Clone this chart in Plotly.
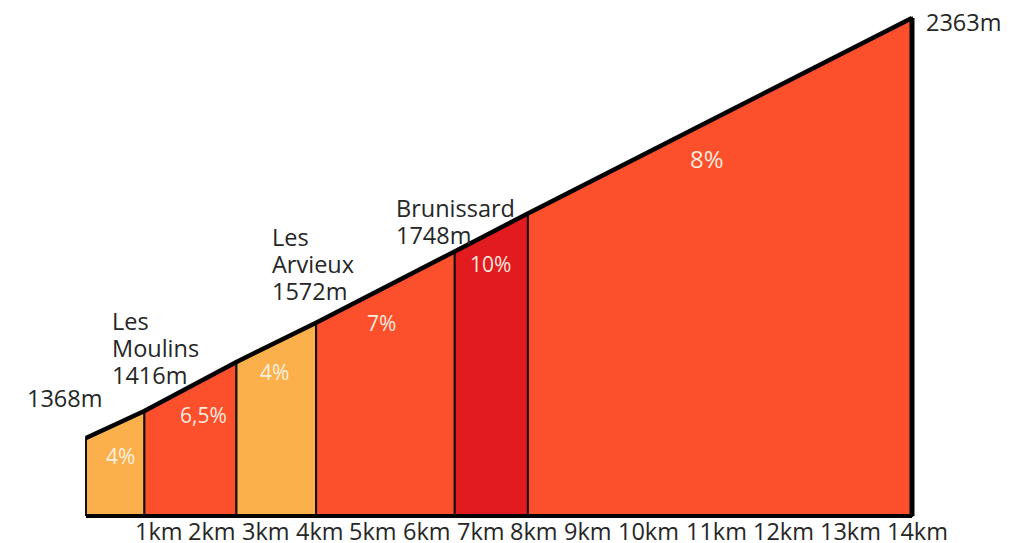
import plotly.graph_objects as go

# ---- data ----
dist_km = [0.0, 0.99, 2.55, 3.90, 6.25, 7.49, 14.0]          # segment boundaries
elev_m = [1368, 1432, 1548, 1641, 1810, 1900, 2363]          # profile height at boundaries
grades = ["4%", "6,5%", "4%", "7%", "10%", "8%"]
seg_colors = ["#FBB04B", "#FC4F2C", "#FBB04B", "#FC4F2C", "#E11B1E", "#FC4F2C"]
grade_x = [0.585, 1.99, 3.20, 5.0, 6.85, 10.52]
grade_y = [1325, 1422, 1524, 1640, 1780, 2031]
grade_size = [21, 21, 21, 21, 21, 24]

tick_km = [1.229, 2.139, 3.049, 3.959, 4.869, 5.780, 6.690, 7.600, 8.510,
           9.537, 10.678, 11.817, 12.956, 14.095]
tick_text = ["1km", "2km", "3km", "4km", "5km", "6km", "7km", "8km", "9km",
             "10km", "11km", "12km", "13km", "14km"]

place_lines = [["1368m"], ["Les", "Moulins", "1416m"], ["Les", "Arvieux", "1572m"],
               ["Brunissard", "1748m"], ["2363m"]]
place_x = [-1.033, 0.408, 3.12, 5.216, 14.204]
place_y = [1462.7, 1645.1, 1844.1, 1912.8, 2353.5]

BASE = 1183.2
Y_TOP = 2386.65
Y_BOTTOM = 1171.3
FONT = "Open Sans"
TXT = "#262626"

fig = go.Figure()

# segment polygons
for i in range(len(grades)):
    xs = [dist_km[i], dist_km[i], dist_km[i + 1], dist_km[i + 1], dist_km[i]]
    ys = [BASE, elev_m[i], elev_m[i + 1], BASE, BASE]
    fig.add_trace(go.Scatter(x=xs, y=ys, mode="lines", fill="toself",
                             fillcolor=seg_colors[i],
                             line=dict(color="#111111", width=2),
                             hoverinfo="skip", showlegend=False))

# thick outline: profile top, right edge, bottom
fig.add_trace(go.Scatter(x=dist_km, y=elev_m, mode="lines",
                         line=dict(color="black", width=4.5),
                         hoverinfo="skip", showlegend=False))
fig.add_trace(go.Scatter(x=[dist_km[-1], dist_km[-1]], y=[elev_m[-1], BASE], mode="lines",
                         line=dict(color="black", width=5),
                         hoverinfo="skip", showlegend=False))
fig.add_trace(go.Scatter(x=[dist_km[0], dist_km[-1]], y=[BASE, BASE], mode="lines",
                         line=dict(color="black", width=4),
                         hoverinfo="skip", showlegend=False))

annotations = []
for g, gx, gy, gs in zip(grades, grade_x, grade_y, grade_size):
    annotations.append(dict(x=gx, y=gy, text=g, showarrow=False,
                            xanchor="center", yanchor="middle",
                            font=dict(family=FONT, size=gs, color="rgba(255,246,235,0.95)")))

for lines, px_, py_ in zip(place_lines, place_x, place_y):
    for k, t in enumerate(lines):
        annotations.append(dict(x=px_, y=py_, text=t, showarrow=False,
                                xanchor="left", yanchor="middle", yshift=-27 * k,
                                font=dict(family=FONT, size=23.5, color=TXT)))

for tx, tt in zip(tick_km, tick_text):
    annotations.append(dict(x=tx, y=BASE, text=tt, showarrow=False,
                            xanchor="center", yanchor="middle", yshift=-15,
                            font=dict(family=FONT, size=23.5, color=TXT)))

fig.update_layout(
    width=1016, height=535,
    margin=dict(l=0, r=82, t=0, b=22, pad=0),
    paper_bgcolor="white", plot_bgcolor="white",
    xaxis=dict(range=[-1.3220, 14.5085], visible=False, fixedrange=True),
    yaxis=dict(range=[Y_BOTTOM, Y_TOP], visible=False, fixedrange=True),
    annotations=annotations,
    showlegend=False,
)

fig.write_html("out.html")
